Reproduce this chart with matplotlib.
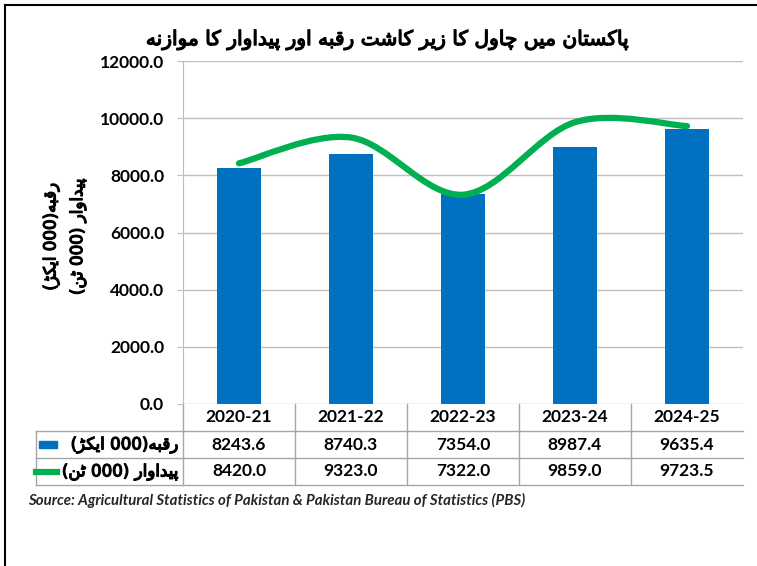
import re
import matplotlib
matplotlib.use('Agg')
import matplotlib.pyplot as plt
import matplotlib.patheffects as pe
from matplotlib.path import Path
from matplotlib.patches import PathPatch, Rectangle
from matplotlib.lines import Line2D

# data
years = ['2020-21', '2021-22', '2022-23', '2023-24', '2024-25']
area = [8243.6, 8740.3, 7354.0, 8987.4, 9635.4]          # area, 000 acres
production = [8420.0, 9323.0, 7322.0, 9859.0, 9723.5]    # production, 000 tonnes
yticks = [0, 2000, 4000, 6000, 8000, 10000, 12000]

title = 'پاکستان میں چاول کا زیر کاشت رقبہ اور پیداوار کا موازنہ'
area_label = 'رقبہ(000 ایکڑ)'
prod_label = 'پیداوار (000 ٹن)'
source = 'Source: Agricultural Statistics of Pakistan & Pakistan Bureau of Statistics (PBS)'

BLUE = '#0070C0'
GREEN = '#00B050'
GRID = '#BFBFBF'
TABLE = '#A6A6A6'

# matplotlib has no arabic shaping, so pick presentation forms by hand
# (isolated, final, initial, medial); None = letter does not join to the next one
# DejaVu has no final heh goal (U+FBA7), the arabic final heh glyph stands in for it
FORMS = {
    'ا': ('\uFE8D', '\uFE8E', None, None),
    'ب': ('\uFE8F', '\uFE90', '\uFE91', '\uFE92'),
    'ت': ('\uFE95', '\uFE96', '\uFE97', '\uFE98'),
    'د': ('\uFEA9', '\uFEAA', None, None),
    'ر': ('\uFEAD', '\uFEAE', None, None),
    'ز': ('\uFEAF', '\uFEB0', None, None),
    'س': ('\uFEB1', '\uFEB2', '\uFEB3', '\uFEB4'),
    'ش': ('\uFEB5', '\uFEB6', '\uFEB7', '\uFEB8'),
    'ق': ('\uFED5', '\uFED6', '\uFED7', '\uFED8'),
    'ل': ('\uFEDD', '\uFEDE', '\uFEDF', '\uFEE0'),
    'م': ('\uFEE1', '\uFEE2', '\uFEE3', '\uFEE4'),
    'ن': ('\uFEE5', '\uFEE6', '\uFEE7', '\uFEE8'),
    'و': ('\uFEED', '\uFEEE', None, None),
    'پ': ('\uFB56', '\uFB57', '\uFB58', '\uFB59'),
    'ٹ': ('\uFB66', '\uFB67', '\uFB68', '\uFB69'),
    'چ': ('\uFB7A', '\uFB7B', '\uFB7C', '\uFB7D'),
    'ڑ': ('\uFB8C', '\uFB8D', None, None),
    'ک': ('\uFB8E', '\uFB8F', '\uFB90', '\uFB91'),
    'ں': ('\uFB9E', '\uFB9F', None, None),
    'ہ': ('\uFBA6', '\uFEEA', '\uFBA8', '\uFBA9'),
    'ی': ('\uFBFC', '\uFBFD', '\uFBFE', '\uFBFF'),
}
ARABIC = '\u0600-\u06FF\uFB50-\uFEFF'


def shape(text):
    out = []
    for i, ch in enumerate(text):
        if ch not in FORMS:
            out.append(ch)
            continue
        prev = text[i - 1] if i > 0 else ''
        nxt = text[i + 1] if i + 1 < len(text) else ''
        iso, fin, ini, med = FORMS[ch]
        join_prev = prev in FORMS and FORMS[prev][2] is not None
        join_next = nxt in FORMS and ini is not None
        if join_prev and join_next:
            out.append(med)
        elif join_prev:
            out.append(fin)
        elif join_next:
            out.append(ini)
        else:
            out.append(iso)
    return ''.join(out)


def visual(text):
    # right-to-left line: reverse, keep digit runs in order, mirror brackets
    s = shape(text)
    tokens = re.findall(r'[0-9.]+|[^0-9.]', s)
    return ''.join(tokens[::-1]).translate(str.maketrans('()', ')('))


def smooth_path(xs, ys, k=1 / 6):
    pts = list(zip(xs, ys))
    n = len(pts)
    verts, codes = [pts[0]], [Path.MOVETO]
    for i in range(n - 1):
        p0, p1, p2, p3 = pts[max(i - 1, 0)], pts[i], pts[i + 1], pts[min(i + 2, n - 1)]
        c1 = (p1[0] + (p2[0] - p0[0]) * k, p1[1] + (p2[1] - p0[1]) * k)
        c2 = (p2[0] - (p3[0] - p1[0]) * k, p2[1] - (p3[1] - p1[1]) * k)
        verts += [c1, c2, p2]
        codes += [Path.CURVE4] * 3
    return Path(verts, codes)


plt.rcParams['font.family'] = ['Lato', 'DejaVu Sans']

# urdu text: DejaVu Sans has the arabic forms, thicken it with a stroke
URDU = dict(family=['DejaVu Sans'], fontweight='normal',
            path_effects=[pe.withStroke(linewidth=0.9, foreground='black')])

W, H = 757, 566
fig = plt.figure(figsize=(W / 100, H / 100), dpi=100)
ax = fig.add_axes([183 / W, 1 - 404 / H, (743 - 183) / W, (404 - 61) / H])

x = list(range(len(years)))
ax.bar(x, area, width=0.4, color=BLUE, zorder=2)
ax.add_patch(PathPatch(smooth_path(x, production), fill=False, edgecolor=GREEN,
                       lw=4.5, capstyle='round', zorder=3))

ax.set_xlim(-0.5, 4.5)
ax.set_ylim(0, 12000)
ax.set_yticks(yticks)
ax.set_yticklabels([f'{v:.1f}' for v in yticks], fontweight='bold')
ax.set_xticks([])
ax.tick_params(axis='y', length=4.5, color=GRID, pad=9, labelsize=12.5)
ax.grid(axis='y', color=GRID, lw=1)
ax.set_axisbelow(True)
for side in ['top', 'right', 'bottom']:
    ax.spines[side].set_visible(False)
ax.spines['left'].set_color(GRID)

# data table under the axis
tr = ax.get_xaxis_transform()
rh = 27 / 343
xl = (36 - 183) / 112 - 0.5
for k in range(1, 4):
    ax.add_line(Line2D([xl, 4.5], [-k * rh, -k * rh], transform=tr, color=TABLE, lw=1, clip_on=False))
for xs in [-0.5, 0.5, 1.5, 2.5, 3.5]:
    ax.add_line(Line2D([xs, xs], [0, -3 * rh], transform=tr, color=TABLE, lw=1, clip_on=False))
ax.add_line(Line2D([xl, xl], [-rh, -3 * rh], transform=tr, color=TABLE, lw=1, clip_on=False))

for i in x:
    ax.text(i, -0.5 * rh, years[i], transform=tr, ha='center', va='center',
            fontsize=12.5, fontweight='bold', clip_on=False)
    ax.text(i, -1.5 * rh, f'{area[i]:.1f}', transform=tr, ha='center', va='center',
            fontsize=12.5, fontweight='bold', clip_on=False)
    ax.text(i, -2.5 * rh, f'{production[i]:.1f}', transform=tr, ha='center', va='center',
            fontsize=12.5, fontweight='bold', clip_on=False)

lab_x = (178 - 183) / 112 - 0.5
ax.text(lab_x, -1.5 * rh, visual(area_label), transform=tr, ha='right', va='center',
        fontsize=12, clip_on=False, **URDU)
ax.text(lab_x, -2.5 * rh, visual(prod_label), transform=tr, ha='right', va='center',
        fontsize=12, clip_on=False, **URDU)
ax.add_patch(Rectangle((xl + 3 / 112, -1.5 * rh - 3.5 / 343), 18 / 112, 7 / 343,
                       transform=tr, color=BLUE, clip_on=False))
ax.add_line(Line2D([xl, xl + 21 / 112], [-2.5 * rh, -2.5 * rh], transform=tr,
                   color=GREEN, lw=4.5, clip_on=False))

fig.text(388 / W, 1 - 40 / H, visual(title), ha='center', va='center',
         fontsize=14.5, **URDU)
fig.text(64 / W, 1 - 237 / H, visual(area_label) + '\n' + visual(prod_label),
         rotation=90, ha='center', va='center', fontsize=12, linespacing=1.6,
         multialignment='center', **URDU)
fig.text(28 / W, 1 - 500 / H, source, ha='left', va='center', fontsize=10.8,
         fontweight='bold', style='italic', color='#262626')

# frame lines on the left and top edge
fig.add_artist(Line2D([4.5 / W, 4.5 / W], [0, 1 - 4.5 / H], color='black', lw=1.5))
fig.add_artist(Line2D([4.5 / W, 1], [1 - 4.5 / H, 1 - 4.5 / H], color='black', lw=1.5))

fig.savefig('out.png', dpi=100)
